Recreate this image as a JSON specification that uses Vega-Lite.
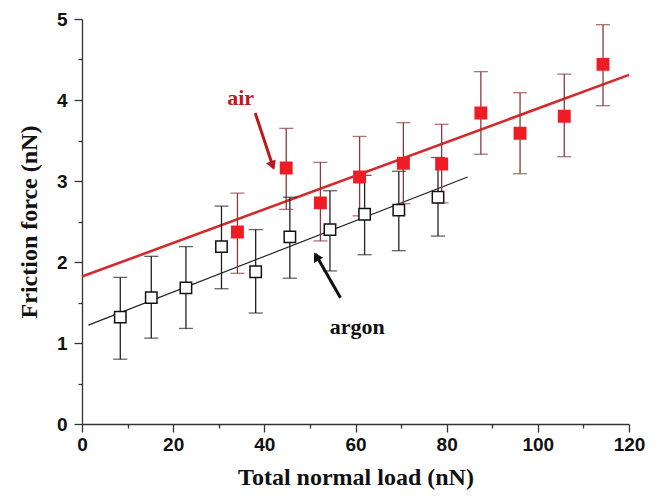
{
  "$schema": "https://vega.github.io/schema/vega-lite/v6.json",
  "width": 547,
  "height": 405,
  "autosize": {"type": "none"},
  "padding": {"left": 82, "top": 19, "right": 38, "bottom": 77},
  "background": "white",
  "config": {
    "view": {"stroke": null},
    "axis": {
      "grid": false,
      "domainColor": "#333333",
      "tickColor": "#333333",
      "domainWidth": 1.3,
      "tickWidth": 1.3,
      "labelFont": "Liberation Sans",
      "labelFontWeight": "bold",
      "labelFontSize": 19,
      "labelColor": "#111111",
      "titleFont": "Liberation Serif",
      "titleFontWeight": "bold",
      "titleFontSize": 24,
      "titleColor": "#111111"
    }
  },
  "datasets": {
    "points": [
      {"series": "argon", "load": 8.4, "force": 1.32, "lo": 0.80, "hi": 1.81},
      {"series": "argon", "load": 15.2, "force": 1.56, "lo": 1.06, "hi": 2.07},
      {"series": "argon", "load": 22.8, "force": 1.68, "lo": 1.18, "hi": 2.19},
      {"series": "argon", "load": 30.6, "force": 2.19, "lo": 1.67, "hi": 2.69},
      {"series": "argon", "load": 38.1, "force": 1.88, "lo": 1.37, "hi": 2.40},
      {"series": "argon", "load": 45.6, "force": 2.31, "lo": 1.80, "hi": 2.80},
      {"series": "argon", "load": 54.4, "force": 2.40, "lo": 1.89, "hi": 2.88},
      {"series": "argon", "load": 62.0, "force": 2.59, "lo": 2.09, "hi": 3.07},
      {"series": "argon", "load": 69.5, "force": 2.64, "lo": 2.14, "hi": 3.12},
      {"series": "argon", "load": 78.1, "force": 2.80, "lo": 2.32, "hi": 3.29},
      {"series": "air", "load": 34.1, "force": 2.37, "lo": 1.86, "hi": 2.85},
      {"series": "air", "load": 44.8, "force": 3.16, "lo": 2.65, "hi": 3.65},
      {"series": "air", "load": 52.3, "force": 2.73, "lo": 2.26, "hi": 3.23},
      {"series": "air", "load": 60.9, "force": 3.05, "lo": 2.57, "hi": 3.55},
      {"series": "air", "load": 70.5, "force": 3.22, "lo": 2.72, "hi": 3.72},
      {"series": "air", "load": 78.9, "force": 3.21, "lo": 2.73, "hi": 3.70},
      {"series": "air", "load": 87.5, "force": 3.84, "lo": 3.33, "hi": 4.35},
      {"series": "air", "load": 96.1, "force": 3.59, "lo": 3.09, "hi": 4.09},
      {"series": "air", "load": 105.8, "force": 3.80, "lo": 3.30, "hi": 4.32},
      {"series": "air", "load": 114.3, "force": 4.44, "lo": 3.93, "hi": 4.93}
    ],
    "fits": [
      {"series": "air", "x1": 0, "y1": 1.82, "x2": 120, "y2": 4.31},
      {"series": "argon", "x1": 1.4, "y1": 1.22, "x2": 84.6, "y2": 3.05}
    ],
    "notes": [
      {"series": "air", "label": "air", "tx": 34.8, "ty": 4.02, "ax1": 38.0, "ay1": 3.84, "ax2": 42.0, "ay2": 3.16, "hx": 41.8, "hy": 3.19, "angle": 158},
      {"series": "argon", "label": "argon", "tx": 60.4, "ty": 1.20, "ax1": 56.7, "ay1": 1.56, "ax2": 51.2, "ay2": 2.10, "hx": 51.4, "hy": 2.07, "angle": 330}
    ]
  },
  "resolve": {"axis": {"x": "independent", "y": "independent"}},
  "layer": [
    {
      "data": {"name": "fits"},
      "mark": {"type": "rule"},
      "encoding": {
        "x": {"field": "x1", "type": "quantitative", "scale": {"domain": [0, 120], "nice": false},
              "axis": {"orient": "bottom", "title": "Total normal load (nN)", "values": [0, 20, 40, 60, 80, 100, 120], "tickSize": 8, "labelPadding": 3, "titlePadding": 11, "labelFlush": false, "labelOverlap": false}},
        "y": {"field": "y1", "type": "quantitative", "scale": {"domain": [0, 5], "nice": false},
              "axis": {"orient": "left", "title": "Friction force (nN)", "values": [0, 1, 2, 3, 4, 5], "tickSize": 8, "labelPadding": 7, "titlePadding": 15, "labelFlush": false, "labelOverlap": false}},
        "x2": {"field": "x2"},
        "y2": {"field": "y2"},
        "color": {"condition": {"test": "datum.series === 'air'", "value": "#d42a2e"}, "value": "#222222"},
        "strokeWidth": {"condition": {"test": "datum.series === 'air'", "value": 2.6}, "value": 1.2}
      }
    },
    {
      "data": {"name": "points"},
      "mark": {"type": "rule", "strokeWidth": 1.3},
      "encoding": {
        "x": {"field": "load", "type": "quantitative", "scale": {"domain": [0, 120], "nice": false},
              "axis": {"orient": "bottom", "title": null, "values": [10, 30, 50, 70, 90, 110], "labels": false, "domain": false, "tickSize": 4}},
        "y": {"field": "lo", "type": "quantitative", "scale": {"domain": [0, 5], "nice": false},
              "axis": {"orient": "left", "title": null, "values": [0.5, 1.5, 2.5, 3.5, 4.5], "labels": false, "domain": false, "tickSize": 4}},
        "y2": {"field": "hi"},
        "color": {"condition": {"test": "datum.series === 'air'", "value": "#8a3a3c"}, "value": "#222222"}
      }
    },
    {
      "data": {"name": "points"},
      "transform": [{"fold": ["lo", "hi"], "as": ["end", "val"]}],
      "mark": {"type": "tick", "orient": "horizontal", "size": 14, "thickness": 1.3},
      "encoding": {
        "x": {"field": "load", "type": "quantitative", "axis": null},
        "y": {"field": "val", "type": "quantitative", "axis": null},
        "color": {"condition": {"test": "datum.series === 'air'", "value": "#8a3a3c"}, "value": "#222222"}
      }
    },
    {
      "data": {"name": "points"},
      "mark": {"type": "point", "shape": "square", "size": 130, "strokeWidth": 1.5, "filled": false, "opacity": 1},
      "encoding": {
        "x": {"field": "load", "type": "quantitative", "axis": null},
        "y": {"field": "force", "type": "quantitative", "axis": null},
        "fill": {"condition": {"test": "datum.series === 'air'", "value": "#ee1c24"}, "value": "white"},
        "stroke": {"condition": {"test": "datum.series === 'air'", "value": "#ee1c24"}, "value": "#111111"},
        "fillOpacity": {"value": 1}
      }
    },
    {
      "data": {"name": "notes"},
      "mark": {"type": "rule", "strokeWidth": 3},
      "encoding": {
        "x": {"field": "ax1", "type": "quantitative", "axis": null},
        "y": {"field": "ay1", "type": "quantitative", "axis": null},
        "x2": {"field": "ax2"},
        "y2": {"field": "ay2"},
        "color": {"condition": {"test": "datum.series === 'air'", "value": "#c0161e"}, "value": "#111111"}
      }
    },
    {
      "data": {"name": "notes"},
      "mark": {"type": "point", "shape": "triangle-up", "size": 110, "filled": true, "opacity": 1},
      "encoding": {
        "x": {"field": "hx", "type": "quantitative", "axis": null},
        "y": {"field": "hy", "type": "quantitative", "axis": null},
        "angle": {"field": "angle", "type": "quantitative", "scale": null},
        "color": {"condition": {"test": "datum.series === 'air'", "value": "#c0161e"}, "value": "#111111"}
      }
    },
    {
      "data": {"name": "notes"},
      "mark": {"type": "text", "font": "Liberation Serif", "fontWeight": "bold", "fontSize": 22, "align": "center", "baseline": "middle"},
      "encoding": {
        "x": {"field": "tx", "type": "quantitative", "axis": null},
        "y": {"field": "ty", "type": "quantitative", "axis": null},
        "text": {"field": "label"},
        "color": {"condition": {"test": "datum.series === 'air'", "value": "#c0161e"}, "value": "#111111"}
      }
    }
  ]
}
